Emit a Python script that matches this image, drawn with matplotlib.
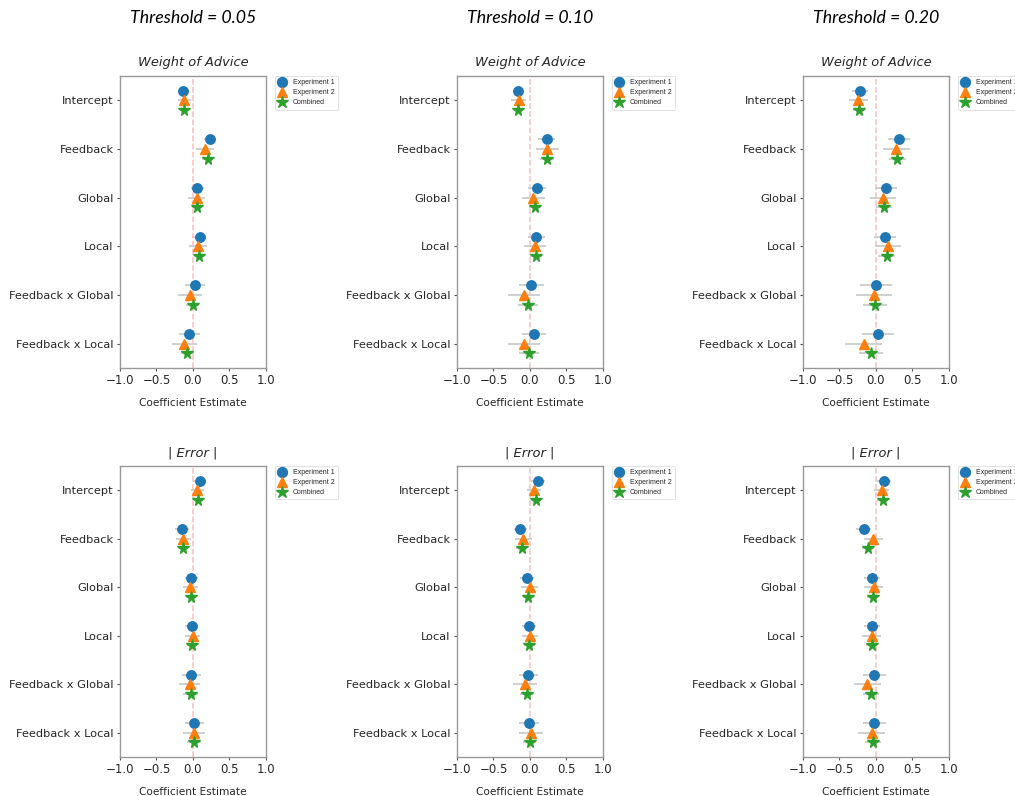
import numpy as np
import matplotlib.pyplot as plt

# predictors shown on the y axis (top to bottom)
predictors = ['Intercept', 'Feedback', 'Global', 'Local',
              'Feedback x Global', 'Feedback x Local']
series_names = ['Experiment 1', 'Experiment 2', 'Combined']
thresholds = ['0.05', '0.10', '0.20']

# coefficient estimates, rows = Experiment 1 / Experiment 2 / Combined
woa_est_05 = [[-0.13, 0.23, 0.06, 0.09, 0.03, -0.05],
              [-0.12, 0.16, 0.05, 0.07, -0.045, -0.12],
              [-0.12, 0.20, 0.055, 0.08, -0.005, -0.08]]
woa_est_10 = [[-0.16, 0.23, 0.10, 0.09, 0.02, 0.055],
              [-0.155, 0.24, 0.045, 0.07, -0.085, -0.08],
              [-0.16, 0.235, 0.07, 0.08, -0.03, -0.01]]
woa_est_20 = [[-0.22, 0.31, 0.14, 0.12, 0.0, 0.03],
              [-0.24, 0.28, 0.095, 0.17, -0.03, -0.17],
              [-0.23, 0.295, 0.115, 0.145, -0.015, -0.065]]
err_est_05 = [[0.09, -0.15, -0.02, -0.015, -0.02, 0.015],
              [0.06, -0.13, -0.035, -0.005, -0.045, 0.015],
              [0.075, -0.14, -0.027, -0.01, -0.03, 0.015]]
err_est_10 = [[0.105, -0.13, -0.035, -0.015, -0.02, -0.015],
              [0.06, -0.09, -0.005, 0.0, -0.07, 0.015],
              [0.08, -0.115, -0.02, -0.01, -0.04, 0.0]]
err_est_20 = [[0.105, -0.17, -0.055, -0.06, -0.02, -0.02],
              [0.08, -0.035, -0.03, -0.06, -0.12, -0.06],
              [0.09, -0.11, -0.045, -0.06, -0.07, -0.04]]

# half widths of the confidence intervals
woa_ci_05 = [[0.07, 0.08, 0.09, 0.095, 0.14, 0.14],
             [0.09, 0.125, 0.12, 0.12, 0.165, 0.17],
             [0.05, 0.07, 0.07, 0.07, 0.09, 0.09]]
woa_ci_10 = [[0.075, 0.12, 0.12, 0.12, 0.175, 0.17],
             [0.105, 0.155, 0.155, 0.15, 0.22, 0.22],
             [0.06, 0.10, 0.085, 0.085, 0.14, 0.14]]
woa_ci_20 = [[0.11, 0.15, 0.15, 0.15, 0.22, 0.215],
             [0.125, 0.18, 0.18, 0.18, 0.25, 0.25],
             [0.08, 0.12, 0.11, 0.11, 0.165, 0.165]]
err_ci_05 = [[0.09, 0.09, 0.085, 0.09, 0.13, 0.13],
             [0.085, 0.10, 0.105, 0.105, 0.145, 0.145],
             [0.06, 0.065, 0.07, 0.07, 0.10, 0.09]]
err_ci_10 = [[0.095, 0.095, 0.095, 0.095, 0.13, 0.135],
             [0.095, 0.115, 0.12, 0.115, 0.165, 0.165],
             [0.06, 0.08, 0.07, 0.075, 0.09, 0.09]]
err_ci_20 = [[0.095, 0.105, 0.115, 0.11, 0.16, 0.16],
             [0.10, 0.125, 0.13, 0.135, 0.185, 0.185],
             [0.07, 0.085, 0.08, 0.08, 0.11, 0.11]]

woa_est = [woa_est_05, woa_est_10, woa_est_20]
woa_ci = [woa_ci_05, woa_ci_10, woa_ci_20]
err_est = [err_est_05, err_est_10, err_est_20]
err_ci = [err_ci_05, err_ci_10, err_ci_20]

colors = ['#1f77b4', '#ff7f0e', '#2ca02c']
markers = ['o', '^', '*']
msizes = [6.8, 7.2, 8.5]
offsets = [-0.2, 0.0, 0.2]
text_col = '#262626'


def coef_plot(ax, est, ci, title):
    y = np.arange(len(predictors))
    ax.axvline(0, color='#f4a6a6', ls='--', lw=1.1, alpha=0.7, zorder=0)
    for k in range(3):
        ax.errorbar(est[k], y + offsets[k], xerr=ci[k], fmt='none',
                    ecolor='#cfcfcf', elinewidth=1.4, capsize=0, zorder=1)
        ax.plot(est[k], y + offsets[k], ls='none', marker=markers[k],
                ms=msizes[k], color=colors[k], label=series_names[k], zorder=2)
    ax.set_yticks(y)
    ax.set_yticklabels(predictors, fontsize=8.2, color=text_col)
    ax.set_ylim(len(predictors) - 0.5, -0.5)
    ax.set_xlim(-1, 1)
    ax.set_xticks([-1.0, -0.5, 0.0, 0.5, 1.0])
    ax.tick_params(axis='x', labelsize=8.5, labelcolor=text_col)
    ax.tick_params(length=2.5, width=0.8, pad=2, color='#555555')
    ax.set_xlabel('Coefficient Estimate', fontsize=7.6, labelpad=8, color=text_col)
    ax.set_title(title, fontsize=9.4, style='italic', pad=7, color=text_col)
    for s in ax.spines.values():
        s.set_color('#999999')
        s.set_linewidth(1.0)
    leg = ax.legend(loc='upper left', bbox_to_anchor=(1.06, 1.0),
                    borderaxespad=0, prop={'family': 'Liberation Sans', 'size': 5},
                    handletextpad=0.9, labelspacing=0.45, borderpad=0.45,
                    handlelength=1.3, framealpha=1, markerscale=1.05)
    leg.get_frame().set_edgecolor('#dddddd')
    leg.get_frame().set_linewidth(0.6)
    for t in leg.get_texts():
        t.set_color(text_col)


fig = plt.figure(figsize=(10.15, 7.96), dpi=100)
lefts = [0.1182, 0.4502, 0.7911]
w = 0.1438
for j, thr in enumerate(thresholds):
    ax_top = fig.add_axes([lefts[j], 0.5377, w, 0.3668])
    coef_plot(ax_top, woa_est[j], woa_ci[j], 'Weight of Advice')
    ax_bot = fig.add_axes([lefts[j], 0.049, w, 0.3656])
    coef_plot(ax_bot, err_est[j], err_ci[j], '| Error |')
    fig.text(lefts[j] + w / 2, 0.977, f'Threshold = {thr}', ha='center',
             va='center', fontsize=12.8, style='italic', family='Lato')

fig.savefig('out.png', dpi=100)
